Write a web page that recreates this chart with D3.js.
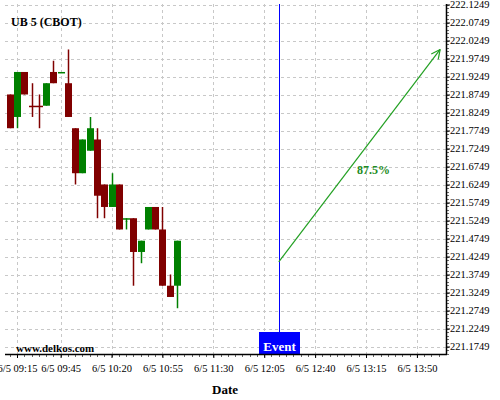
<!DOCTYPE html>
<html>
<head>
<meta charset="utf-8">
<script src="https://cdn.jsdelivr.net/npm/d3@7"></script>
<style>
  body { margin: 0; background: #fff; }
  svg { display: block; font-family: "Liberation Serif", "Times New Roman", serif; }
</style>
</head>
<body>
<svg width="500" height="400"></svg>
<script>
// candles, 5 min bars on 6/5
let times = ["09:10","09:15","09:20","09:25","09:30","09:35","09:40","09:45",
             "09:50","09:55","10:00","10:05","10:10","10:15","10:20","10:25",
             "10:30","10:35","10:40","10:45","10:50","10:55","11:00","11:05"];
let opens  = [221.875,221.8125,221.9375,221.84375,221.84375,221.84375,221.9375,221.9375,
              221.90625,221.78125,221.65625,221.71875,221.75,221.625,221.5625,221.625,
              221.53125,221.53125,221.4375,221.5,221.5625,221.5,221.34375,221.34375];
let highs  = [221.875,221.9375,221.9375,221.90625,221.875,221.90625,221.96875,221.9375,
              222.0,221.78125,221.75,221.8125,221.78125,221.625,221.65625,221.625,
              221.53125,221.53125,221.46875,221.5625,221.5625,221.5625,221.375,221.46875];
let lows   = [221.78125,221.78125,221.875,221.8125,221.78125,221.84375,221.90625,221.9375,
              221.8125,221.625,221.65625,221.71875,221.53125,221.53125,221.5625,221.5,
              221.5,221.34375,221.40625,221.5,221.5,221.34375,221.3125,221.28125];
let closes = [221.78125,221.9375,221.875,221.84375,221.84375,221.90625,221.90625,221.9375,
              221.8125,221.65625,221.75,221.78125,221.59375,221.5625,221.625,221.5,
              221.53125,221.4375,221.46875,221.5625,221.5,221.34375,221.3125,221.46875];

let yTicks = ["221.1749","221.2249","221.2749","221.3249","221.3749","221.4249","221.4749",
              "221.5249","221.5749","221.6249","221.6749","221.7249","221.7749","221.8249",
              "221.8749","221.9249","221.9749","222.0249","222.0749","222.1249"];
let xTicks = ["09:15","09:45","10:20","10:55","11:30","12:05","12:40","13:15","13:50"];

let eventTime = "12:15";
let arrowFrom = ["12:15", 221.41];
let arrowTo = ["14:06", 222.0];
let arrowLabel = "87.5%";

let day = t => { let [h, m] = t.split(":").map(Number); return new Date(2019, 5, 5, h, m); };

let svg = d3.select("svg"),
    width = +svg.attr("width"),
    height = +svg.attr("height");

const L = 5, R = 446, T = 4, B = 354;

let x = d3.scaleTime()
    .domain([new Date(2019, 5, 5, 9, 6, 45), new Date(2019, 5, 5, 14, 10)])
    .range([L, R]);
let y = d3.scaleLinear()
    .domain([221.1541, 222.1263])
    .range([B, T]);

// grid
let grid = svg.append("g").attr("stroke", "#c8c8c8").attr("stroke-dasharray", "3,3");
grid.selectAll("line.h").data(yTicks).enter().append("line")
    .attr("x1", L).attr("x2", R)
    .attr("y1", d => Math.round(y(+d)) + 0.5).attr("y2", d => Math.round(y(+d)) + 0.5);
grid.selectAll("line.v").data(xTicks).enter().append("line")
    .attr("y1", T).attr("y2", B)
    .attr("x1", d => Math.round(x(day(d))) + 0.5).attr("x2", d => Math.round(x(day(d))) + 0.5);

// title + watermark
svg.append("text").attr("x", 11).attr("y", 26).attr("font-weight", "bold")
    .attr("font-size", 12).text("UB 5 (CBOT)");
svg.append("text").attr("x", 16).attr("y", 352).attr("font-weight", "bold")
    .attr("font-size", 11).text("www.delkos.com");

// candles
let bw = 7;
let candles = svg.append("g");
times.forEach((t, i) => {
  let up = closes[i] >= opens[i] && closes[i] !== opens[i] ? true : false;
  let col = (closes[i] > opens[i] || (closes[i] == opens[i] && i == 7) || (closes[i] == opens[i] && i == 16)) ? "#008000" : "#800000";
  let cx = Math.round(x(day(t)));
  candles.append("line")
    .attr("x1", cx + 0.5).attr("x2", cx + 0.5)
    .attr("y1", y(highs[i])).attr("y2", y(lows[i]))
    .attr("stroke", col).attr("stroke-width", 1.5);
  let top = y(Math.max(opens[i], closes[i])), bot = y(Math.min(opens[i], closes[i]));
  candles.append("rect")
    .attr("x", cx - 3).attr("width", bw)
    .attr("y", top).attr("height", Math.max(1.5, bot - top))
    .attr("fill", col);
});

// event line + box
let ex = Math.round(x(day(eventTime))) + 0.5;
svg.append("line").attr("x1", ex).attr("x2", ex).attr("y1", T).attr("y2", 332)
    .attr("stroke", "#0000ff").attr("stroke-width", 1);
svg.append("rect").attr("x", ex - 20.5).attr("y", 332).attr("width", 41).attr("height", B - 332)
    .attr("fill", "#0000ff");
svg.append("text").attr("x", ex).attr("y", 351).attr("text-anchor", "middle")
    .attr("fill", "#fff").attr("font-weight", "bold").attr("font-size", 13).text("Event");

// arrow
let ax1 = x(day(arrowFrom[0])), ay1 = y(arrowFrom[1]);
let ax2 = x(day(arrowTo[0])), ay2 = y(arrowTo[1]);
svg.append("line").attr("x1", ax1).attr("y1", ay1).attr("x2", ax2).attr("y2", ay2)
    .attr("stroke", "#22a022").attr("stroke-width", 1.2);
let ang = Math.atan2(ay2 - ay1, ax2 - ax1);
[-0.45, 0.45].forEach(a => {
  svg.append("line").attr("x1", ax2).attr("y1", ay2)
    .attr("x2", ax2 - 10 * Math.cos(ang + a)).attr("y2", ay2 - 10 * Math.sin(ang + a))
    .attr("stroke", "#22a022").attr("stroke-width", 1.2);
});
svg.append("text").attr("x", (ax1 + ax2) / 2 + 14).attr("y", (ay1 + ay2) / 2 + 18)
    .attr("text-anchor", "middle").attr("font-weight", "bold").attr("font-size", 12)
    .attr("fill", "#228b22").text(arrowLabel);

// right axis
let yMinor = d3.range(221.1549, 222.1259, 0.01);
svg.append("g").selectAll("line").data(yMinor).enter().append("line")
    .attr("x1", R).attr("x2", R + 3)
    .attr("y1", d => Math.round(y(d)) + 0.5).attr("y2", d => Math.round(y(d)) + 0.5)
    .attr("stroke", "#000").attr("stroke-width", 0.6);
let yAxis = svg.append("g").attr("transform", `translate(${R},0)`)
    .call(d3.axisRight(y).tickValues(yTicks.map(Number)).tickSize(4).tickFormat(d3.format(".4f")));
yAxis.select(".domain").attr("stroke-width", 1.5).attr("d", `M0.5,${T}V${B}`);
yAxis.selectAll("text").attr("font-family", "Liberation Serif").attr("font-size", 10.5)
    .attr("x", 4).attr("fill", "#000");

// bottom axis
let xMinor = d3.timeMinute.every(5).range(new Date(2019, 5, 5, 9, 10), new Date(2019, 5, 5, 14, 10));
svg.append("g").selectAll("line").data(xMinor).enter().append("line")
    .attr("x1", d => Math.round(x(d)) + 0.5).attr("x2", d => Math.round(x(d)) + 0.5)
    .attr("y1", B).attr("y2", B + 3)
    .attr("stroke", "#000").attr("stroke-width", 0.6);
let xAxis = svg.append("g").attr("transform", `translate(0,${B})`)
    .call(d3.axisBottom(x).tickValues(xTicks.map(day)).tickSize(4)
      .tickFormat(d3.timeFormat("%-m/%-d %H:%M")));
xAxis.select(".domain").attr("stroke-width", 1.5).attr("d", `M${L},0.5H${R + 1}`);
xAxis.selectAll("text").attr("font-family", "Liberation Serif").attr("font-size", 10.5)
    .attr("y", 11).attr("fill", "#000");

svg.append("text").attr("x", 225).attr("y", 394).attr("text-anchor", "middle")
    .attr("font-weight", "bold").attr("font-size", 13).text("Date");
</script>
</body>
</html>
